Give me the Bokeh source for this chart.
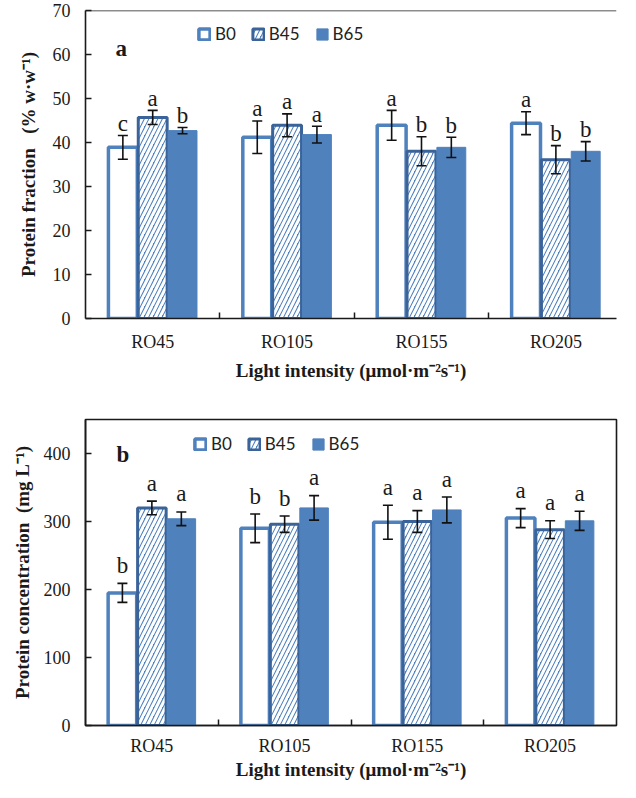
import numpy as np
from bokeh.plotting import figure
from bokeh.models import (ColumnDataSource, Whisker, TeeHead, FixedTicker, Legend,
                          LegendItem, Label, Span, Range1d)
from bokeh.layouts import column
from bokeh.embed import file_html
from bokeh.resources import INLINE
from bokeh.core.properties import value

# ---------------- data ----------------
categories = ["RO45", "RO105", "RO155", "RO205"]
series = ["B0", "B45", "B65"]

frac_B0 = [38.9, 41.2, 43.9, 44.4]
frac_B45 = [45.7, 43.9, 38.0, 36.1]
frac_B65 = [42.7, 41.8, 38.9, 38.0]
frac_err_B0 = [2.7, 3.7, 3.4, 2.6]
frac_err_B45 = [1.6, 2.6, 3.3, 3.2]
frac_err_B65 = [0.7, 1.9, 2.3, 2.2]
frac_sig_B0 = ["c", "a", "a", "a"]
frac_sig_B45 = ["a", "a", "b", "b"]
frac_sig_B65 = ["b", "a", "b", "b"]
frac_ticks = [0, 10, 20, 30, 40, 50, 60, 70]

conc_B0 = [195, 290, 299, 305]
conc_B45 = [320, 296, 300, 288]
conc_B65 = [304, 320, 317, 301]
conc_err_B0 = [14, 21, 25, 14]
conc_err_B45 = [10, 12, 16, 13]
conc_err_B65 = [10, 18, 19, 14]
conc_sig_B0 = ["b", "b", "a", "a"]
conc_sig_B45 = ["a", "b", "a", "a"]
conc_sig_B65 = ["a", "a", "a", "a"]
conc_ticks = [0, 100, 200, 300, 400]

x_title = "Light intensity (\u03bcmol\u00b7m\u207b\u00b2s\u207b\u00b9)"
frac_title = "Protein fraction\u00a0\u00a0\u00a0(% w\u00b7w\u207b\u00b9)"
conc_title = "Protein concentration\u00a0\u00a0(mg L\u207b\u00b9)"

# ---------------- style ----------------
BLUE = "#4F81BD"
DARK = "#3A6399"
SERIF = "Liberation Serif"
TXT = "#1a1a1a"
BW = 0.215


def make_panel(vals, errs, sigs, ymax, yticks, ytitle, letter, width, height,
               borders, x_end, sig_offset, legend_loc, letter_loc, outline,
               xlab_standoff, xtitle_standoff, ytitle_standoff):
    p = figure(width=width, height=height, output_backend="svg", toolbar_location=None,
               x_range=Range1d(-0.5, x_end), y_range=Range1d(0, ymax),
               min_border_left=borders[0], min_border_right=borders[1],
               min_border_top=borders[2], min_border_bottom=borders[3])
    p.xgrid.visible = False
    p.ygrid.visible = False
    p.background_fill_color = "white"
    p.border_fill_color = "white"
    if outline:
        p.outline_line_color = "#1a1a1a"
        p.outline_line_width = 1.6
    else:
        p.outline_line_color = None
        p.add_layout(Span(location=ymax, dimension="width", line_color="#1a1a1a",
                          line_width=1.6))

    xs = np.arange(len(categories))
    styles = [
        dict(fill_color="white", line_color=BLUE, line_width=3.5),
        dict(fill_color=BLUE, line_color=DARK, line_width=3,
             hatch_pattern="/", hatch_color="white", hatch_weight=3, hatch_scale=9),
        dict(fill_color=BLUE, line_color=BLUE, line_width=1),
    ]
    renderers = []
    for j in range(len(series)):
        xpos = xs + (j - 1) * 0.222
        top = np.array(vals[j], dtype=float)
        err = np.array(errs[j], dtype=float)
        src = ColumnDataSource(dict(x=xpos, top=top, lo=top - err, hi=top + err,
                                    sig=sigs[j]))
        r = p.vbar(x="x", top="top", width=BW, bottom=0, source=src, **styles[j])
        renderers.append(r)
        w = Whisker(base="x", lower="lo", upper="hi", source=src, level="overlay",
                    line_color="#111111", line_width=1.6,
                    upper_head=TeeHead(size=10, line_width=1.6, line_color="#111111"),
                    lower_head=TeeHead(size=10, line_width=1.6, line_color="#111111"))
        p.add_layout(w)
        p.text(x="x", y="hi", text="sig", source=src, text_font=value(SERIF),
               text_font_size="23px", text_align="center", text_baseline="alphabetic",
               y_offset=-sig_offset, text_color=TXT)

    # axes
    p.xaxis.ticker = FixedTicker(ticks=list(range(len(categories))),
                                 minor_ticks=[0.5, 1.5, 2.5])
    p.xaxis.major_label_overrides = {i: c for i, c in enumerate(categories)}
    p.xaxis.major_tick_line_color = None
    p.xaxis.minor_tick_line_color = "#1a1a1a"
    p.xaxis.minor_tick_line_width = 1.5
    p.xaxis.minor_tick_in = 6
    p.xaxis.minor_tick_out = 0
    p.xaxis.major_label_standoff = xlab_standoff
    p.xaxis.axis_label = x_title
    p.xaxis.axis_label_standoff = xtitle_standoff

    p.yaxis.ticker = FixedTicker(ticks=yticks)
    p.yaxis.minor_tick_line_color = None
    p.yaxis.major_tick_in = 6
    p.yaxis.major_tick_out = 0
    p.yaxis.major_tick_line_width = 1.5
    p.yaxis.major_tick_line_color = "#1a1a1a"
    p.yaxis.axis_label = ytitle
    p.yaxis.major_label_standoff = 15
    p.yaxis.axis_label_standoff = ytitle_standoff

    for ax in (p.xaxis[0], p.yaxis[0]):
        ax.axis_line_color = "#1a1a1a"
        ax.axis_line_width = 1.6
        ax.major_label_text_font = SERIF
        ax.major_label_text_font_size = "18px"
        ax.major_label_text_color = TXT
        ax.axis_label_text_font = SERIF
        ax.axis_label_text_font_size = "19px"
        ax.axis_label_text_font_style = "bold"
        ax.axis_label_text_color = TXT

    legend = Legend(items=[LegendItem(label=s, renderers=[r]) for s, r in zip(series, renderers)],
                    orientation="horizontal", location=legend_loc,
                    glyph_width=14, glyph_height=14, label_standoff=4, spacing=15,
                    padding=0, margin=0, border_line_color=None, background_fill_alpha=0,
                    label_text_font="Lato", label_text_font_size="17px",
                    label_text_color="#222222", label_height=14)
    p.add_layout(legend)

    p.add_layout(Label(x=letter_loc[0], y=letter_loc[1], x_units="screen", y_units="screen",
                       text=letter, text_font=SERIF, text_font_size="23px",
                       text_font_style="bold", text_color=TXT, text_baseline="alphabetic"))
    return p


top = make_panel([frac_B0, frac_B45, frac_B65], [frac_err_B0, frac_err_B45, frac_err_B65],
                 [frac_sig_B0, frac_sig_B45, frac_sig_B65], 70, frac_ticks, frac_title, "a",
                 width=626, height=392, borders=(85, 0, 10, 74), x_end=3.451, sig_offset=12,
                 legend_loc=(112, 274), letter_loc=(30, 270), outline=False,
                 xlab_standoff=7, xtitle_standoff=5, ytitle_standoff=11)

bottom = make_panel([conc_B0, conc_B45, conc_B65], [conc_err_B0, conc_err_B45, conc_err_B65],
                    [conc_sig_B0, conc_sig_B45, conc_sig_B65], 450, conc_ticks, conc_title, "b",
                    width=626, height=390, borders=(74, 10, 27, 56), x_end=3.5, sig_offset=18,
                    legend_loc=(108, 271), letter_loc=(31, 271), outline=True,
                    xlab_standoff=4, xtitle_standoff=0, ytitle_standoff=8)

layout = column(top, bottom, spacing=0)
open("out.html", "w").write(file_html(layout, INLINE))
